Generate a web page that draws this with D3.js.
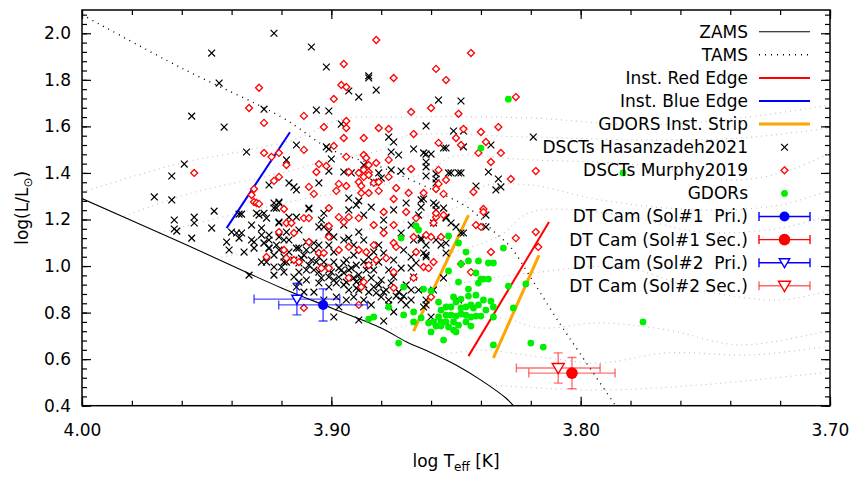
<!DOCTYPE html>
<html>
<head>
<meta charset="utf-8">
<title>DT Cam HR diagram</title>
<style>
  body { margin: 0; background: #fff; }
  svg text { font-family: "DejaVu Sans", sans-serif; font-size: 17px; fill: #000; }
  .track { fill: none; stroke: #c4c4c4; stroke-width: 1.2; stroke-dasharray: 1,4; }
  .zams { fill: none; stroke: #000; stroke-width: 1.1; }
  .tams { fill: none; stroke: #000; stroke-width: 1.4; stroke-dasharray: 1,5; }
  .hz { fill: none; stroke: #000; stroke-width: 1.2; }
  .mu { fill: #fff; stroke: #ff0000; stroke-width: 1.3; }
  .gd { fill: #00ee00; }
  .tick line { stroke: #000; }
</style>
<script src="https://d3js.org/d3.v7.min.js"></script>
</head>
<body>
<svg id="chart" width="852" height="477"></svg>
<script>
// log Teff / log L values
var xMajor = [4.00, 3.90, 3.80, 3.70];
var yMajor = [0.4, 0.6, 0.8, 1.0, 1.2, 1.4, 1.6, 1.8, 2.0];

var zams = [[4.00,1.29],[3.96,1.10],[3.92,0.906],[3.90,0.82],[3.88,0.734],[3.87,0.675],[3.86,0.628],[3.85,0.575],[3.84,0.51],[3.83,0.433],[3.827,0.40]];
var tams = [[4.00,2.08],[3.96,1.85],[3.92,1.64],[3.90,1.50],[3.88,1.425],[3.86,1.33],[3.845,1.25],[3.835,1.15],[3.828,1.08],[3.82,0.95],[3.81,0.78],[3.80,0.62],[3.786,0.40]];

var tracks = [
  [[4.000,1.318],[3.960,1.443],[3.933,1.499],[3.913,1.550],[3.897,1.628],[3.872,1.640],[3.820,1.636],[3.776,1.606],[3.736,1.636],[3.700,1.692]],
  [[3.983,1.215],[3.956,1.314],[3.920,1.400],[3.901,1.456],[3.880,1.499],[3.872,1.554],[3.820,1.554],[3.776,1.542],[3.736,1.550],[3.700,1.593]],
  [[3.969,1.142],[3.937,1.228],[3.913,1.284],[3.880,1.348],[3.860,1.413],[3.852,1.469],[3.820,1.456],[3.776,1.434],[3.737,1.370],[3.716,1.413],[3.700,1.486]],
  [[3.944,1.039],[3.920,1.082],[3.897,1.133],[3.872,1.189],[3.848,1.262],[3.840,1.340],[3.820,1.348],[3.792,1.284],[3.752,1.241],[3.720,1.262],[3.700,1.327]],
  [[3.920,0.906],[3.897,0.961],[3.872,1.017],[3.848,1.069],[3.832,1.133],[3.820,1.232],[3.784,1.219],[3.752,1.146],[3.720,1.163],[3.700,1.219]],
  [[3.900,0.820],[3.872,0.884],[3.848,0.927],[3.828,0.961],[3.820,0.970],[3.784,0.996],[3.752,0.897],[3.720,0.854],[3.700,0.897]],
  [[3.878,0.725],[3.856,0.768],[3.832,0.777],[3.816,0.734],[3.792,0.756],[3.765,0.725],[3.736,0.661],[3.700,0.725]],
  [[3.856,0.618],[3.840,0.639],[3.816,0.609],[3.792,0.584],[3.765,0.627],[3.732,0.618],[3.700,0.656]],
  [[3.836,0.489],[3.816,0.476],[3.792,0.467],[3.752,0.489],[3.700,0.545]]
];

var redEdge = [[3.845,0.613],[3.8127,1.189]];
var blueEdge = [[3.942,1.163],[3.9166,1.575]];
var gdorBlue = [[3.867,0.72],[3.845,1.219]];
var gdorRed = [[3.835,0.605],[3.8167,1.047]];

var hasanzadeh = [
[3.923,2.000],[3.948,1.915],[3.945,1.786],[3.927,1.674],[3.956,1.644],[3.943,1.597],[3.934,1.490],[3.959,1.438],[3.964,1.387],[3.925,1.348],[3.971,1.297],[3.964,1.284],
[3.908,1.941],[3.902,1.855],[3.885,1.808],[3.885,1.817],[3.882,1.756],[3.906,1.670],[3.901,1.666],[3.896,1.610],[3.914,1.520],[3.902,1.512],[3.901,1.503],[3.900,1.460],[3.918,1.456],[3.901,1.408],[3.895,1.404],[3.905,1.357],[3.917,1.357],[3.915,1.340],[3.914,1.327],[3.921,1.275],[3.923,1.249],[3.893,1.292],[3.889,1.280],[3.890,1.262],[3.893,1.752],[3.889,1.726],[3.887,1.434],[3.883,1.361],
[3.857,1.713],[3.848,1.709],[3.862,1.602],[3.851,1.580],[3.847,1.580],[3.877,1.554],[3.875,1.533],[3.876,1.490],[3.873,1.477],[3.867,1.503],[3.863,1.486],[3.862,1.481],[3.860,1.481],[3.855,1.507],[3.854,1.507],[3.847,1.512],[3.836,1.520],[3.819,1.554],
[3.862,1.447],[3.862,1.426],[3.876,1.413],[3.872,1.408],[3.881,1.400],[3.880,1.378],[3.892,1.400],[3.858,1.396],[3.862,1.387],[3.853,1.400],[3.852,1.400],[3.849,1.400],[3.848,1.400],[3.837,1.404],[3.858,1.374],[3.858,1.357],[3.842,1.344],[3.833,1.374],[3.834,1.327],[3.832,1.340],[3.863,1.288],[3.859,1.271],[3.858,1.262],
[3.909,1.249],[3.923,1.271],[3.922,1.249],[3.927,1.227],[3.909,1.245],[3.903,1.227],[3.884,1.253],[3.875,1.241],[3.870,1.271],[3.864,1.284],[3.864,1.253],[3.865,1.219],[3.859,1.185],[3.855,1.249],[3.854,1.206],[3.852,1.185],
[3.929,1.219],[3.926,1.206],[3.921,1.189],[3.917,1.210],[3.914,1.210],[3.904,1.198],[3.905,1.168],[3.903,1.168],[3.899,1.125],[3.889,1.146],[3.879,1.155],[3.872,1.142],[3.867,1.112],[3.864,1.120],[3.921,1.125],[3.918,1.146],[3.910,1.103],[3.907,1.099],[3.895,1.112],[3.883,1.060],[3.879,1.056],[3.871,1.069],[3.868,1.039],[3.862,1.047],[3.854,1.056],[3.866,1.013],[3.868,0.992],
[3.927,1.099],[3.925,1.077],[3.921,1.069],[3.919,1.039],[3.918,1.017],[3.915,1.026],[3.913,1.013],[3.910,0.983],[3.907,0.983],[3.905,0.974],[3.903,0.996],[3.900,0.974],[3.897,0.991],[3.897,0.953],[3.895,0.970],[3.893,0.983],[3.891,0.949],[3.889,0.962],[3.886,0.983],[3.885,1.004],[3.885,1.039],[3.887,1.017],[3.895,1.013],[3.899,1.017],[3.905,1.039],[3.908,1.026],
[3.910,0.940],[3.905,0.927],[3.901,0.910],[3.898,0.927],[3.895,0.919],[3.893,0.897],[3.890,0.932],[3.891,0.867],[3.889,0.897],[3.883,0.910],[3.882,0.884],[3.880,0.867],[3.878,0.897],[3.876,0.927],[3.875,0.953],[3.877,0.983],[3.872,0.854],[3.870,0.833],[3.868,0.854],[3.867,0.953],[3.897,0.824],[3.899,0.781],[3.889,0.768],[3.879,0.764],[3.915,0.953],[3.914,0.910],[3.926,1.017],[3.923,0.996],[3.919,0.974],[3.898,0.867],[3.894,0.854],
[3.963,1.198],[3.963,1.159],[3.962,1.150],[3.955,1.210],[3.955,1.185],[3.947,1.236],[3.948,1.163],[3.956,1.120],[3.937,1.223],[3.936,1.223],[3.940,1.146],[3.938,1.142],[3.936,1.142],[3.942,1.103],[3.941,1.069],[3.937,1.120],[3.935,1.060],[3.932,1.176],[3.932,1.112],[3.931,1.103],[3.931,1.077],[3.930,1.227],[3.928,1.163],[3.927,1.099],[3.925,1.077],[3.921,1.271],[3.923,1.047],[3.928,1.017],[3.921,1.185],[3.920,0.996],[3.933,0.961],
[3.858,1.241],[3.854,1.210],[3.848,1.142],[3.847,1.142],[3.850,1.168],[3.838,1.168],[3.838,1.219],[3.864,1.112],[3.862,1.090],[3.858,1.112],[3.856,1.090],[3.854,1.099],[3.863,1.056],[3.862,1.039],[3.855,0.949],[3.859,0.897],[3.862,0.854],[3.862,0.833],[3.863,0.824],[3.849,0.854],[3.860,0.781],
[3.917,1.112],[3.913,1.077],[3.911,1.047],[3.907,1.069],[3.901,1.090],[3.899,1.060],[3.891,1.090],[3.887,1.112],[3.881,1.090],[3.881,1.017],[3.875,1.026],[3.872,0.991],[3.870,0.919],[3.865,0.897],[3.873,0.888],[3.887,0.854],[3.884,0.833],[3.877,0.833],[3.875,0.803],[3.903,0.854],[3.907,0.888],[3.913,0.974],[3.911,0.888],[3.923,0.961],[3.895,1.176],[3.887,1.219],[3.879,1.198],[3.868,1.176],[3.893,1.241],[3.913,1.155],[3.901,1.146],[3.893,1.120],[3.925,1.133],[3.883,0.983],[3.880,0.940],[3.887,0.919],[3.890,1.004],[3.894,1.026],[3.903,1.017],[3.901,0.953],
[3.928,1.133],[3.925,1.112],[3.922,1.090],[3.919,1.112],[3.917,1.060],[3.914,1.077],[3.912,1.034],[3.909,1.004],[3.906,1.017],[3.904,0.949],[3.901,0.983],[3.899,0.940],[3.896,0.983],[3.894,0.931],[3.892,0.991],[3.890,0.905],[3.888,0.940],[3.885,0.888],[3.884,0.949],[3.881,0.919],[3.879,0.888],[3.877,0.854],[3.874,0.871],[3.871,0.871],[3.868,0.897],[3.910,1.069],[3.905,1.090],[3.891,1.047],[3.913,0.931],[3.919,1.017]
];

var murphy = [
[3.929,1.766],[3.933,1.679],[3.927,1.615],[3.927,1.486],[3.924,1.469],[3.921,1.486],[3.955,1.400],[3.921,1.383],[3.923,1.366],[3.931,1.331],
[3.882,1.971],[3.895,1.868],[3.896,1.778],[3.894,1.769],[3.899,1.718],[3.911,1.645],[3.903,1.597],[3.894,1.623],[3.894,1.593],[3.881,1.593],[3.895,1.550],[3.887,1.550],[3.899,1.516],[3.911,1.499],[3.894,1.469],[3.887,1.477],[3.886,1.464],[3.882,1.443],[3.905,1.438],[3.902,1.430],[3.918,1.434],[3.906,1.404],[3.893,1.404],[3.889,1.400],[3.887,1.413],[3.885,1.434],[3.885,1.404],[3.887,1.383],[3.889,1.361],[3.888,1.344],[3.885,1.391],[3.883,1.357],[3.897,1.353],[3.909,1.340],[3.907,1.310],[3.898,1.323],[3.894,1.344],[3.885,1.314],[3.932,1.305],[3.931,1.275],[3.930,1.271],[3.929,1.267],[3.901,1.249],[3.919,1.245],
[3.875,1.808],[3.858,1.847],[3.854,1.799],[3.844,1.915],[3.868,1.662],[3.860,1.679],[3.849,1.654],[3.877,1.589],[3.867,1.567],[3.850,1.550],[3.847,1.589],[3.840,1.576],[3.833,1.597],[3.857,1.529],[3.848,1.520],[3.841,1.486],[3.838,1.533],[3.832,1.486],[3.836,1.447],[3.818,1.408],[3.828,1.374],[3.843,1.318],
[3.877,1.456],[3.868,1.417],[3.857,1.413],[3.854,1.370],[3.857,1.353],[3.855,1.310],[3.858,1.331],[3.863,1.314],[3.869,1.314],[3.874,1.335],[3.875,1.288],[3.881,1.323],[3.877,1.383],[3.881,1.361],[3.839,1.245],[3.826,1.726],[3.888,1.314],
[3.879,1.232],[3.911,1.206],[3.909,1.206],[3.918,1.185],[3.916,1.185],[3.897,1.210],[3.893,1.210],[3.895,1.189],[3.901,1.172],[3.889,1.206],[3.883,1.176],[3.879,1.142],[3.870,1.232],[3.866,1.206],[3.858,1.210],[3.859,1.185],[3.875,1.176],[3.875,1.099],[3.874,1.082],[3.867,1.125],[3.860,1.125],[3.856,1.125],
[3.921,1.146],[3.915,1.142],[3.909,1.103],[3.901,1.125],[3.905,1.056],[3.903,1.056],[3.897,1.069],[3.893,1.082],[3.889,1.069],[3.886,1.060],[3.883,1.090],[3.882,1.026],[3.878,1.034],[3.866,1.060],[3.859,1.017],[3.863,0.996],[3.861,0.991],[3.875,0.974],[3.867,0.949],
[3.926,1.039],[3.919,1.069],[3.918,1.034],[3.915,1.026],[3.913,1.017],[3.904,0.991],[3.901,0.991],[3.885,1.004],[3.893,0.949],[3.887,0.931],[3.888,0.910],[3.875,0.906],[3.889,0.833],[3.911,0.820],[3.860,0.867],
[3.858,1.227],[3.855,1.219],[3.839,1.232],[3.842,1.176],[3.840,1.168],[3.862,1.133],[3.848,1.009],[3.844,0.974],[3.836,1.060],[3.826,1.120],[3.818,1.146],[3.817,1.082]
];

var gdors = [
[3.829,1.717],[3.840,1.507],[3.783,1.400],[3.775,0.760],[3.866,1.172],[3.865,1.155],[3.872,1.120],[3.853,1.129],[3.849,1.099],[3.846,1.060],[3.845,1.022],[3.841,1.022],[3.837,1.013],[3.835,1.013],[3.831,1.077],
[3.853,0.979],[3.848,1.009],[3.849,0.931],[3.842,0.970],[3.840,0.944],[3.839,0.944],[3.841,0.927],[3.837,0.944],[3.845,0.901],[3.863,0.901],[3.871,0.910],[3.860,0.893],[3.851,0.867],[3.850,0.845],[3.845,0.871],[3.842,0.875],[3.839,0.854],[3.836,0.849],[3.835,0.824],
[3.877,0.824],[3.857,0.845],[3.854,0.824],[3.852,0.824],[3.848,0.820],[3.846,0.824],[3.844,0.833],[3.843,0.820],[3.854,0.789],[3.852,0.789],[3.850,0.785],[3.848,0.794],[3.846,0.789],[3.844,0.781],[3.842,0.785],[3.840,0.785],
[3.857,0.781],[3.859,0.760],[3.861,0.755],[3.856,0.760],[3.854,0.760],[3.851,0.760],[3.856,0.742],[3.853,0.738],[3.860,0.717],[3.851,0.725],[3.850,0.717],[3.855,0.682],[3.867,0.803],[3.871,0.790],[3.867,0.760],[3.885,0.772],[3.883,0.781],[3.858,0.742],[3.873,0.669],
[3.829,0.914],[3.822,0.923],[3.827,0.820],[3.835,0.781],[3.835,0.661],[3.820,0.669],[3.815,0.652],
[3.848,0.858],[3.838,0.811],[3.841,0.833],[3.849,0.746],[3.846,0.760],[3.856,0.811],[3.844,0.742],[3.864,0.777]
];

// DT Cam solutions: Sol#1 Pri, Sol#1 Sec, Sol#2 Pri, Sol#2 Sec
var dtT = [3.9033, 3.8035, 3.9138, 3.8090];
var dtL = [0.833, 0.540, 0.858, 0.562];
var dtTErr = [0.0178, 0.0173, 0.0172, 0.0168];
var dtLErr = [0.069, 0.067, 0.068, 0.065];

var legendLabels = ["ZAMS", "TAMS", "Inst. Red Edge", "Inst. Blue Edge", "GDORS Inst. Strip",
  "DSCTs Hasanzadeh2021", "DSCTs Murphy2019", "GDORs",
  "DT Cam (Sol#1  Pri.)", "DT Cam (Sol#1 Sec.)", "DT Cam (Sol#2  Pri.)", "DT Cam (Sol#2 Sec.)"];

var svg = d3.select("#chart");
var plotL = 82, plotR = 830, plotT = 10, plotB = 405.7;

var x = d3.scaleLinear().domain([4.0, 3.7]).range([plotL, plotR]);
var y = d3.scaleLinear().domain([0.4, 2.1]).range([plotB, plotT]);

var xMinor = d3.range(0, 16).map(function(i) { return 3.70 + i * 0.02; });
var yMinor = d3.range(0, 43).map(function(i) { return 0.4 + i * 0.04; });

svg.append("clipPath").attr("id", "clip")
  .append("rect").attr("x", plotL).attr("y", plotT).attr("width", plotR - plotL).attr("height", plotB - plotT);

// ticks, all inward, on all four sides
function tickAxis(axis, tr, vals, size, fmt) {
  var g = svg.append("g").attr("transform", tr)
    .call(axis.tickValues(vals).tickSize(-size).tickPadding(fmt ? 11 : 0).tickFormat(fmt || ""));
  g.select(".domain").remove();
  g.selectAll("line").attr("stroke-width", 1.2);
  return g;
}
tickAxis(d3.axisBottom(x), "translate(0," + plotB + ")", xMinor, 5);
tickAxis(d3.axisTop(x), "translate(0," + plotT + ")", xMinor, 5);
tickAxis(d3.axisLeft(y), "translate(" + plotL + ",0)", yMinor, 5);
tickAxis(d3.axisRight(y), "translate(" + plotR + ",0)", yMinor, 5);
var xa = tickAxis(d3.axisBottom(x), "translate(0," + plotB + ")", xMajor, 9, d3.format(".2f"));
xa.selectAll("text").attr("y", 18);
tickAxis(d3.axisTop(x), "translate(0," + plotT + ")", xMajor, 9);
tickAxis(d3.axisLeft(y), "translate(" + plotL + ",0)", yMajor, 9, d3.format(".1f"));
tickAxis(d3.axisRight(y), "translate(" + plotR + ",0)", yMajor, 9);

var plot = svg.append("g").attr("clip-path", "url(#clip)");
var line = d3.line().x(function(d) { return x(d[0]); }).y(function(d) { return y(d[1]); });
var smooth = d3.line().curve(d3.curveCatmullRom).x(function(d) { return x(d[0]); }).y(function(d) { return y(d[1]); });

plot.selectAll(".track").data(tracks).enter().append("path").attr("class", "track").attr("d", smooth);
plot.append("path").attr("class", "zams").attr("d", smooth(zams));
plot.append("path").attr("class", "tams").attr("d", smooth(tams));
plot.append("path").attr("d", line(redEdge)).attr("stroke", "#ff0000").attr("stroke-width", 2).attr("fill", "none");
plot.append("path").attr("d", line(blueEdge)).attr("stroke", "#0000ff").attr("stroke-width", 2).attr("fill", "none");
[gdorBlue, gdorRed].forEach(function(s) {
  plot.append("path").attr("d", line(s)).attr("stroke", "#ffa500").attr("stroke-width", 3).attr("fill", "none");
});

function xMark(s) { return "M" + (-s) + "," + (-s) + "L" + s + "," + s + "M" + (-s) + "," + s + "L" + s + "," + (-s); }
function diamond(s) { return "M0," + (-s) + "L" + s + ",0L0," + s + "L" + (-s) + ",0Z"; }
function triDown(s) { return "M" + (-s) + "," + (-s * 0.75) + "L" + s + "," + (-s * 0.75) + "L0," + (s * 0.95) + "Z"; }

plot.selectAll(".hz").data(hasanzadeh).enter().append("path").attr("class", "hz")
  .attr("transform", function(d) { return "translate(" + x(d[0]) + "," + y(d[1]) + ")"; })
  .attr("d", xMark(3.4));
plot.selectAll(".mu").data(murphy).enter().append("path").attr("class", "mu")
  .attr("transform", function(d) { return "translate(" + x(d[0]) + "," + y(d[1]) + ")"; })
  .attr("d", diamond(3.5));
plot.selectAll(".gd").data(gdors).enter().append("circle").attr("class", "gd")
  .attr("cx", function(d) { return x(d[0]); }).attr("cy", function(d) { return y(d[1]); }).attr("r", 3.4);

var dtStyle = [
  { color: "#0000ff", sym: "circle", size: 5, op: 0.7 },
  { color: "#ff0000", sym: "circle", size: 5.8, op: 0.55 },
  { color: "#0000ff", sym: "tri", size: 5.2, op: 0.7 },
  { color: "#ff0000", sym: "tri", size: 6, op: 0.55 }
];

function drawSymbol(g, st, cx, cy) {
  if (st.sym == "circle") {
    g.append("circle").attr("cx", cx).attr("cy", cy).attr("r", st.size).attr("fill", st.color);
  } else {
    g.append("path").attr("transform", "translate(" + cx + "," + cy + ")").attr("d", triDown(st.size))
      .attr("fill", "#fff").attr("stroke", st.color).attr("stroke-width", 1.4);
  }
}

dtT.forEach(function(t, i) {
  var st = dtStyle[i];
  var g = plot.append("g");
  var cx = x(t), cy = y(dtL[i]);
  var x0 = x(t - dtTErr[i]), x1 = x(t + dtTErr[i]);
  var y0 = y(dtL[i] - dtLErr[i]), y1 = y(dtL[i] + dtLErr[i]);
  var bars = g.append("g").attr("stroke", st.color).attr("stroke-width", 1.4).attr("stroke-opacity", st.op);
  bars.append("line").attr("x1", x0).attr("x2", x1).attr("y1", cy).attr("y2", cy);
  bars.append("line").attr("x1", x0).attr("x2", x0).attr("y1", cy - 4.5).attr("y2", cy + 4.5);
  bars.append("line").attr("x1", x1).attr("x2", x1).attr("y1", cy - 4.5).attr("y2", cy + 4.5);
  bars.append("line").attr("x1", cx).attr("x2", cx).attr("y1", y0).attr("y2", y1);
  bars.append("line").attr("x1", cx - 4.5).attr("x2", cx + 4.5).attr("y1", y0).attr("y2", y0);
  bars.append("line").attr("x1", cx - 4.5).attr("x2", cx + 4.5).attr("y1", y1).attr("y2", y1);
  drawSymbol(g, st, cx, cy);
});

// frame
svg.append("rect").attr("x", plotL).attr("y", plotT).attr("width", plotR - plotL).attr("height", plotB - plotT)
  .attr("fill", "none").attr("stroke", "#000").attr("stroke-width", 1.5);

// axis titles
var xt = svg.append("text").attr("x", (plotL + plotR) / 2).attr("y", 467).attr("text-anchor", "middle");
xt.append("tspan").text("log T");
xt.append("tspan").attr("dy", 4).style("font-size", "12px").text("eff");
xt.append("tspan").attr("dy", -4).text(" [K]");

var yt = svg.append("text").attr("transform", "translate(28," + ((plotT + plotB) / 2) + ") rotate(-90)")
  .attr("text-anchor", "middle");
yt.append("tspan").text("log(L/L");
yt.append("tspan").attr("dy", 4).style("font-size", "12px").text("\u2299");
yt.append("tspan").attr("dy", -4).text(")");

// legend
var lgTextX = 748, lgX0 = 759, lgX1 = 810, lgMid = 784.5;
legendLabels.forEach(function(label, i) {
  var ly = 31.7 + i * 23.1;
  var g = svg.append("g");
  g.append("text").attr("x", lgTextX).attr("y", ly).attr("dy", "0.35em").attr("text-anchor", "end")
    .style("white-space", "pre").text(label);
  if (i == 0) g.append("line").attr("class", "zams").attr("x1", lgX0).attr("x2", lgX1).attr("y1", ly).attr("y2", ly);
  if (i == 1) g.append("line").attr("class", "tams").attr("x1", lgX0).attr("x2", lgX1).attr("y1", ly).attr("y2", ly);
  if (i == 2 || i == 3 || i == 4) {
    g.append("line").attr("x1", lgX0).attr("x2", lgX1).attr("y1", ly).attr("y2", ly)
      .attr("stroke", ["#ff0000", "#0000ff", "#ffa500"][i - 2]).attr("stroke-width", i == 4 ? 3 : 2);
  }
  if (i == 5) g.append("path").attr("class", "hz").attr("transform", "translate(" + lgMid + "," + ly + ")").attr("d", xMark(3.4));
  if (i == 6) g.append("path").attr("class", "mu").attr("transform", "translate(" + lgMid + "," + ly + ")").attr("d", diamond(3.5));
  if (i == 7) g.append("circle").attr("class", "gd").attr("cx", lgMid).attr("cy", ly).attr("r", 3.4);
  if (i >= 8) {
    var st = dtStyle[i - 8];
    var bars = g.append("g").attr("stroke", st.color).attr("stroke-width", 1.4).attr("stroke-opacity", i == 11 ? 0.6 : 1);
    bars.append("line").attr("x1", lgX0).attr("x2", lgX1).attr("y1", ly).attr("y2", ly);
    bars.append("line").attr("x1", lgX0).attr("x2", lgX0).attr("y1", ly - 4.5).attr("y2", ly + 4.5);
    bars.append("line").attr("x1", lgX1).attr("x2", lgX1).attr("y1", ly - 4.5).attr("y2", ly + 4.5);
    drawSymbol(g, st, lgMid, ly);
  }
});
</script>
</body>
</html>
